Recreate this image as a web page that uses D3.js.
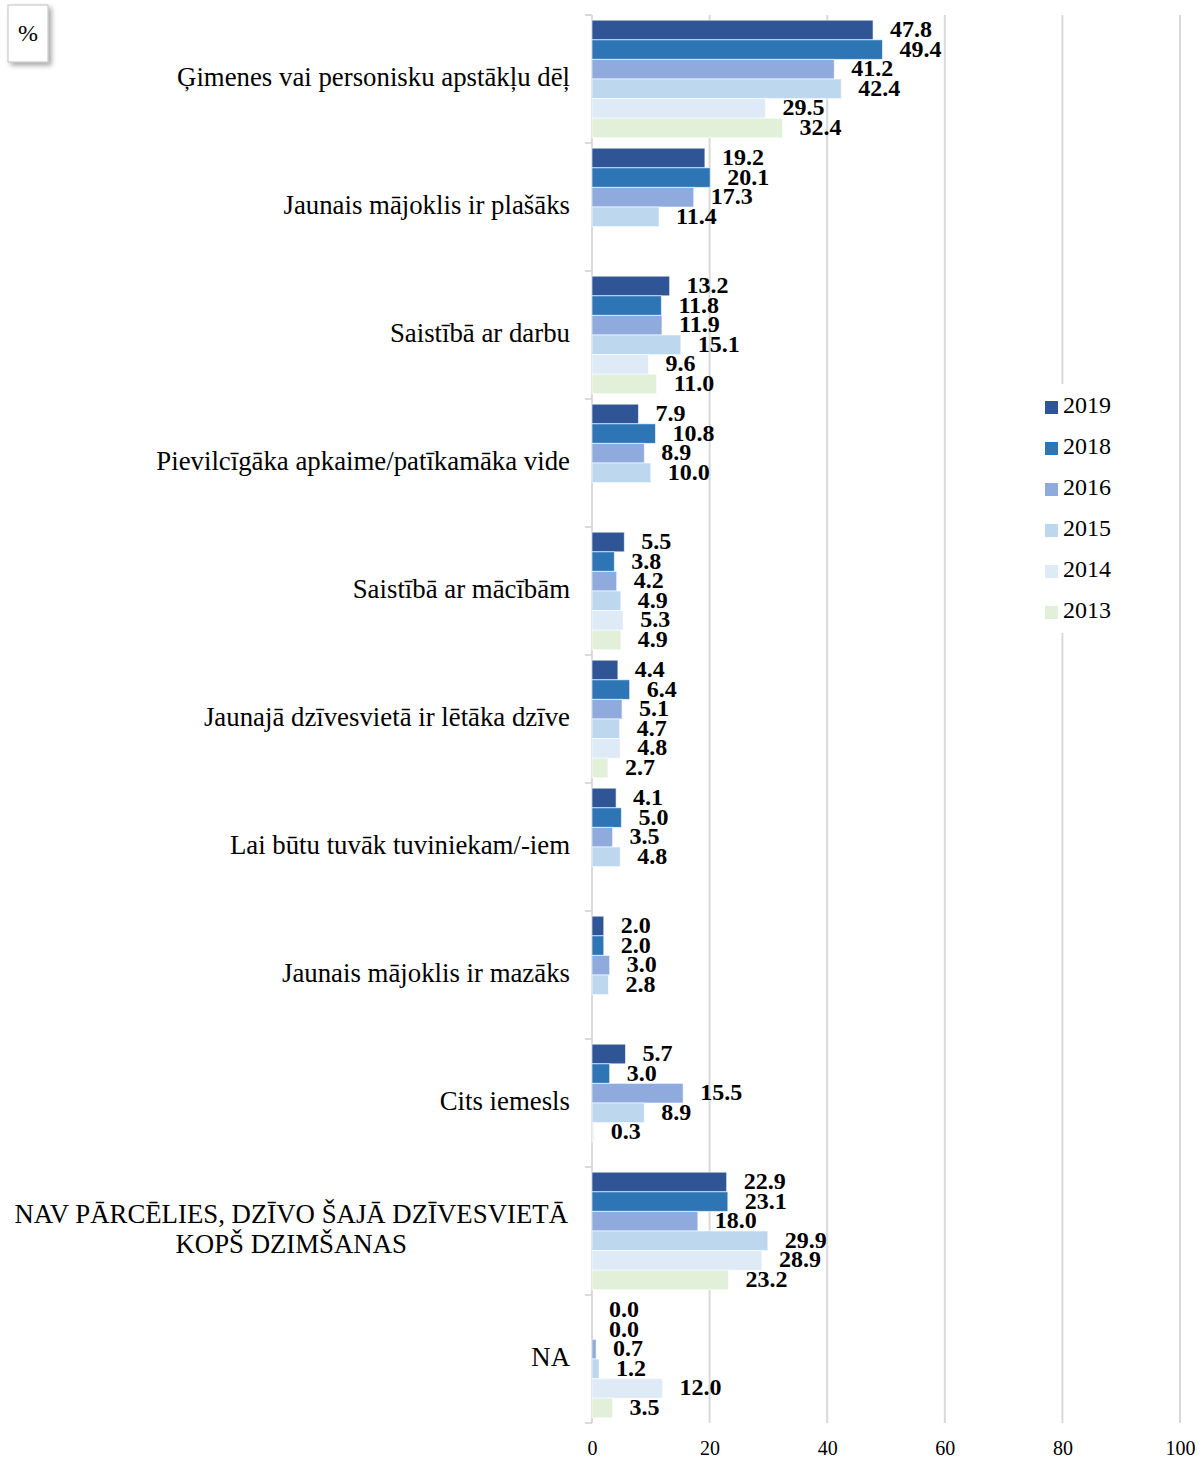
<!DOCTYPE html>
<html>
<head>
<meta charset="utf-8">
<script src="https://cdn.jsdelivr.net/npm/d3@7"></script>
<style>
  html, body { margin: 0; padding: 0; background: #fff; }
  svg { display: block; }
</style>
</head>
<body>
<svg id="chart" width="1204" height="1459"></svg>
<script>
// Reasons for moving, share of respondents by survey year (%)
const categories = [
  "Ģimenes vai personisku apstākļu dēļ",
  "Jaunais mājoklis ir plašāks",
  "Saistībā ar darbu",
  "Pievilcīgāka apkaime/patīkamāka vide",
  "Saistībā ar mācībām",
  "Jaunajā dzīvesvietā ir lētāka dzīve",
  "Lai būtu tuvāk tuviniekam/-iem",
  "Jaunais mājoklis ir mazāks",
  "Cits iemesls",
  "NAV PĀRCĒLIES, DZĪVO ŠAJĀ DZĪVESVIETĀ\nKOPŠ DZIMŠANAS",
  "NA"
];

const seriesNames = ["2019", "2018", "2016", "2015", "2014", "2013"];

// one array per year, aligned with categories (null = not asked that year)
const v2019 = [47.8, 19.2, 13.2, 7.9, 5.5, 4.4, 4.1, 2.0, 5.7, 22.9, 0.0];
const v2018 = [49.4, 20.1, 11.8, 10.8, 3.8, 6.4, 5.0, 2.0, 3.0, 23.1, 0.0];
const v2016 = [41.2, 17.3, 11.9, 8.9, 4.2, 5.1, 3.5, 3.0, 15.5, 18.0, 0.7];
const v2015 = [42.4, 11.4, 15.1, 10.0, 4.9, 4.7, 4.8, 2.8, 8.9, 29.9, 1.2];
const v2014 = [29.5, null, 9.6, null, 5.3, 4.8, null, null, 0.3, 28.9, 12.0];
const v2013 = [32.4, null, 11.0, null, 4.9, 2.7, null, null, null, 23.2, 3.5];

const xTicks = [0, 20, 40, 60, 80, 100];

const seriesValues = [v2019, v2018, v2016, v2015, v2014, v2013];
const colors = ["#2F5597", "#2E75B6", "#8FAADC", "#BDD7EE", "#DEEBF7", "#E2F0D9"];

const svg = d3.select("#chart");
const serif = "'Liberation Serif', 'Times New Roman', serif";

const plot = { left: 592, right: 1180, top: 15, bottom: 1423 };

const x = d3.scaleLinear().domain([0, 100]).range([plot.left, plot.right]);
const y = d3.scaleBand().domain(categories).range([plot.top, plot.bottom]).padding(0);
const ySub = d3.scaleBand().domain(seriesNames)
  .range([0, y.bandwidth()]).paddingInner(0).paddingOuter(0.265);
const color = d3.scaleOrdinal().domain(seriesNames).range(colors);

// vertical gridlines
svg.append("g")
  .selectAll("line")
  .data(xTicks.filter(t => t > 0))
  .join("line")
  .attr("x1", d => x(d)).attr("x2", d => x(d))
  .attr("y1", plot.top).attr("y2", plot.bottom)
  .attr("stroke", "#D9D9D9").attr("stroke-width", 2);

// x axis labels
const xAxis = svg.append("g")
  .attr("transform", `translate(0,${plot.bottom})`)
  .call(d3.axisBottom(x).tickValues(xTicks).tickSize(0).tickPadding(0).tickFormat(d3.format("d")));
xAxis.select(".domain").remove();
xAxis.selectAll("text")
  .attr("y", 32).attr("dy", 0)
  .attr("font-family", serif).attr("font-size", 20).attr("fill", "#000");

// category axis with boundary ticks
const boundaries = categories.map(c => y(c)).concat([plot.bottom]);
svg.append("g")
  .selectAll("line")
  .data(boundaries)
  .join("line")
  .attr("x1", plot.left - 7).attr("x2", plot.left)
  .attr("y1", d => d).attr("y2", d => d)
  .attr("stroke", "#D9D9D9").attr("stroke-width", 2);
svg.append("line")
  .attr("x1", plot.left).attr("x2", plot.left)
  .attr("y1", plot.top).attr("y2", plot.bottom)
  .attr("stroke", "#D9D9D9").attr("stroke-width", 2);

// bars and value labels
const rows = [];
categories.forEach((c, i) => {
  seriesNames.forEach((s, j) => {
    const v = seriesValues[j][i];
    if (v !== null) rows.push({ cat: c, series: s, value: v });
  });
});

const gBars = svg.append("g");
gBars.selectAll("rect")
  .data(rows)
  .join("rect")
  .attr("x", x(0))
  .attr("y", d => y(d.cat) + ySub(d.series))
  .attr("width", d => x(d.value) - x(0))
  .attr("height", ySub.bandwidth())
  .attr("fill", d => color(d.series))
  .attr("stroke", "rgba(255,255,255,0.6)")
  .attr("stroke-width", 1);

gBars.selectAll("text")
  .data(rows)
  .join("text")
  .attr("x", d => x(d.value) + 17)
  .attr("y", d => y(d.cat) + ySub(d.series) + ySub.bandwidth() / 2 - 1)
  .attr("dy", "0.33em")
  .attr("font-family", serif)
  .attr("font-weight", "bold")
  .attr("font-size", 24)
  .attr("fill", "#000")
  .text(d => d3.format(".1f")(d.value));

// category labels (multi-line labels are centred on each other)
const catSize = 26.8;
const gCat = svg.append("g");
categories.forEach(c => {
  const lines = c.split("\n");
  const cy = y(c) + y.bandwidth() / 2 - 2;
  const lh = 30;
  const t = gCat.append("text")
    .attr("font-family", serif)
    .attr("font-size", catSize)
    .attr("fill", "#000");
  if (lines.length === 1) {
    t.attr("x", 570).attr("y", cy).attr("dy", "0.33em")
      .attr("text-anchor", "end").text(c);
  } else {
    // measure widest line to centre the block right-aligned at the axis
    const tmp = gCat.append("text").attr("font-family", serif).attr("font-size", catSize).text(lines[0]);
    const w = tmp.node().getComputedTextLength();
    tmp.remove();
    const cx = 568 - w / 2;
    lines.forEach((ln, k) => {
      t.append("tspan")
        .attr("x", cx)
        .attr("y", cy + (k - (lines.length - 1) / 2) * lh)
        .attr("dy", "0.33em")
        .attr("text-anchor", "middle")
        .text(ln);
    });
  }
});

// legend
const legend = svg.append("g").attr("transform", "translate(1036,384)");
legend.append("rect")
  .attr("x", 0).attr("y", 0).attr("width", 86).attr("height", 249)
  .attr("fill", "#fff");
const li = legend.selectAll("g.item")
  .data(seriesNames)
  .join("g")
  .attr("class", "item")
  .attr("transform", (d, i) => `translate(9,${21 + i * 41})`);
li.append("rect")
  .attr("x", 0).attr("y", -4).attr("width", 13).attr("height", 13)
  .attr("fill", d => color(d));
li.append("text")
  .attr("x", 18).attr("y", 0).attr("dy", "0.33em")
  .attr("font-family", serif).attr("font-size", 24).attr("fill", "#000")
  .text(d => d);

// unit box
const defs = svg.append("defs");
const f = defs.append("filter").attr("id", "shadow").attr("x", "-30%").attr("y", "-30%").attr("width", "170%").attr("height", "170%");
f.append("feDropShadow").attr("dx", 3).attr("dy", 3).attr("stdDeviation", 2.5)
  .attr("flood-color", "#000").attr("flood-opacity", 0.35);
svg.append("rect")
  .attr("x", 8).attr("y", 5).attr("width", 40).attr("height", 57)
  .attr("fill", "#fff").attr("stroke", "#BFBFBF").attr("stroke-width", 1)
  .attr("filter", "url(#shadow)");
svg.append("text")
  .attr("x", 28).attr("y", 33).attr("dy", "0.33em")
  .attr("text-anchor", "middle")
  .attr("font-family", serif).attr("font-size", 24).attr("fill", "#000")
  .text("%");
</script>
</body>
</html>
